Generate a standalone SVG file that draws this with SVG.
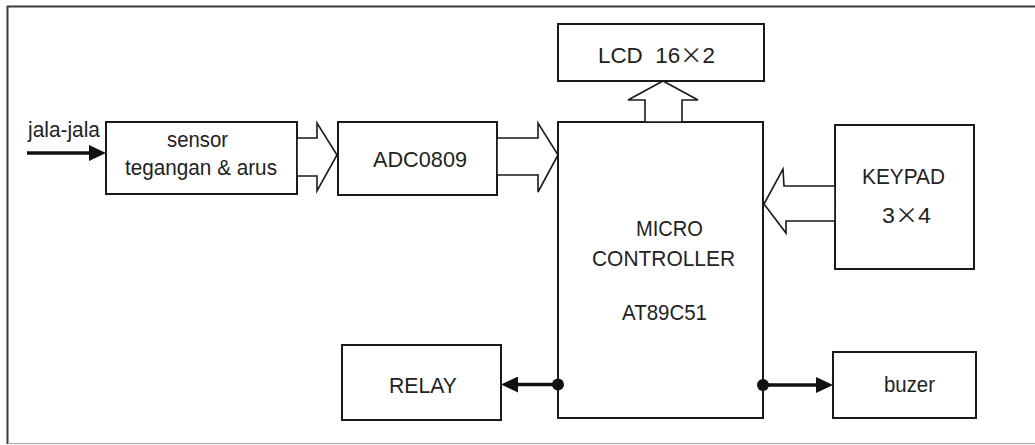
<svg xmlns="http://www.w3.org/2000/svg" width="1035" height="445" viewBox="0 0 1035 445">
<style>
.box{fill:#fff;stroke:#1a1a1a;stroke-width:2}
.t{font-family:"Liberation Sans",Arial,sans-serif;font-size:22px;fill:#222}
.x{font-family:"Noto Sans CJK SC","Liberation Sans",sans-serif}
.bus{fill:#fff;stroke:#1a1a1a;stroke-width:1.6;stroke-linejoin:miter}
.wire{fill:none;stroke:#111;stroke-width:3.5}
.dot{fill:#111}
</style>
<defs>
<marker id="ah" viewBox="0 0 17 16" refX="11" refY="8" markerWidth="17" markerHeight="16" markerUnits="userSpaceOnUse" orient="auto">
<path d="M0,0 L17,8 L0,16 z" fill="#111"/>
</marker>
</defs>
<rect width="1035" height="445" fill="#fff"/>
<g id="frame">
<line x1="7" y1="6.5" x2="1035" y2="6.5" stroke="#3c3c3c" stroke-width="2"/>
<line x1="7.5" y1="6" x2="7.5" y2="444" stroke="#3c3c3c" stroke-width="2"/>
<line x1="8" y1="443.5" x2="1035" y2="443.5" stroke="#a8a8a8" stroke-width="1"/>
</g>
<g id="jala-jala">
<text class="t" x="28" y="137" textLength="72" lengthAdjust="spacingAndGlyphs">jala-jala</text>
</g>
<g id="sensor">
<rect class="box" x="106" y="122" width="191" height="72"/>
<text class="t" x="167" y="147" textLength="61" lengthAdjust="spacingAndGlyphs">sensor</text>
<text class="t" x="125" y="175" textLength="152" lengthAdjust="spacingAndGlyphs">tegangan &amp; arus</text>
</g>
<g id="adc">
<rect class="box" x="338" y="122" width="159" height="73"/>
<text class="t" x="373" y="167" textLength="94" lengthAdjust="spacingAndGlyphs">ADC0809</text>
</g>
<g id="lcd">
<rect class="box" x="558" y="24" width="206" height="57"/>
<text class="t" x="598" y="63" textLength="117" lengthAdjust="spacingAndGlyphs" xml:space="preserve">LCD  16<tspan class="x">×</tspan>2</text>
</g>
<g id="mcu">
<rect class="box" x="558" y="122" width="205" height="296"/>
<text class="t" x="636" y="236" textLength="67" lengthAdjust="spacingAndGlyphs">MICRO</text>
<text class="t" x="592" y="266" textLength="143" lengthAdjust="spacingAndGlyphs">CONTROLLER</text>
<text class="t" x="622" y="320" textLength="85" lengthAdjust="spacingAndGlyphs">AT89C51</text>
</g>
<g id="keypad">
<rect class="box" x="835" y="125" width="139" height="144"/>
<text class="t" x="862" y="184" textLength="83" lengthAdjust="spacingAndGlyphs">KEYPAD</text>
<text class="t" x="882" y="223" textLength="49" lengthAdjust="spacingAndGlyphs">3<tspan class="x">×</tspan>4</text>
</g>
<g id="relay">
<rect class="box" x="342" y="345" width="159" height="75"/>
<text class="t" x="389" y="393" textLength="68" lengthAdjust="spacingAndGlyphs">RELAY</text>
</g>
<g id="buzer">
<rect class="box" x="833" y="352" width="143" height="66"/>
<text class="t" x="884" y="392" textLength="51" lengthAdjust="spacingAndGlyphs">buzer</text>
</g>
<g id="connectors">
<line class="wire" x1="27" y1="153" x2="100" y2="153" marker-end="url(#ah)"/>
<polygon class="bus" points="297,138 317,138 317,123 337,155 317,191 317,176 297,176"/>
<polygon class="bus" points="497,138 538,138 538,123 558,155 538,192 538,175 497,175"/>
<polygon class="bus" points="645,122 645,100 628,100 663,81 698,100 682,100 682,122"/>
<polygon class="bus" points="835,186 784,186 783,169 764,204 786,233 786,221 835,221"/>
<line class="wire" x1="558" y1="384.5" x2="507" y2="384.5" marker-end="url(#ah)"/>
<circle class="dot" cx="558" cy="384.5" r="6"/>
<line class="wire" x1="763" y1="385" x2="827" y2="385" marker-end="url(#ah)"/>
<circle class="dot" cx="763" cy="385" r="6"/>
</g>
</svg>
